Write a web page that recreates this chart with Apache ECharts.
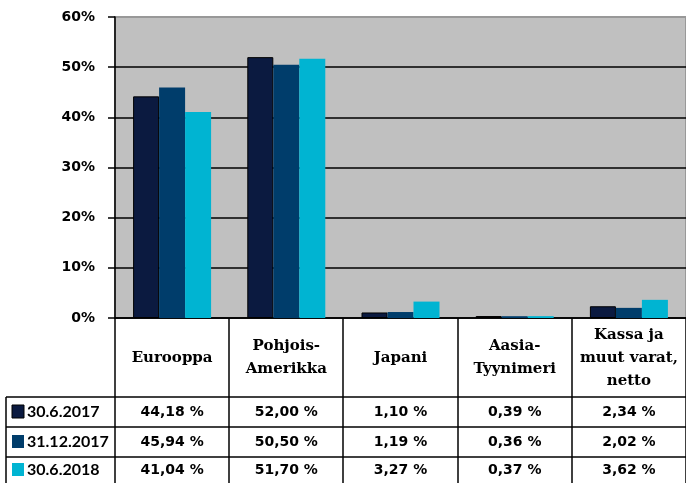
<!DOCTYPE html>
<html><head><meta charset="utf-8">
<script src="https://cdn.jsdelivr.net/npm/echarts@6/dist/echarts.min.js"></script>
<style>html,body{margin:0;padding:0;background:#fff}#c{width:686px;height:483px}</style>
</head><body><div id="c"></div>
<script>
var categories = ['Eurooppa', 'Pohjois-\nAmerikka', 'Japani', 'Aasia-\nTyynimeri', 'Kassa ja\nmuut varat,\nnetto'];
var seriesNames = ['30.6.2017', '31.12.2017', '30.6.2018'];
var s2017a = [44.18, 52.00, 1.10, 0.39, 2.34];
var s2017b = [45.94, 50.50, 1.19, 0.36, 2.02];
var s2018a = [41.04, 51.70, 3.27, 0.37, 3.62];
var colors = ['#0b1a40', '#003d6b', '#00b4d2'];
var yTicks = [0, 10, 20, 30, 40, 50, 60];

var data = [s2017a, s2017b, s2018a];
var L = 115, T = 17, W = 686 - L, B = 318;
var chart = echarts.init(document.getElementById('c'));
var fmt = function (v) { return v.toFixed(2).replace('.', ',') + ' %'; };

var series = data.map(function (d, i) {
  return {
    name: seriesNames[i], type: 'bar', data: d, barWidth: 26, barGap: '0%',
    itemStyle: { color: colors[i], borderColor: i === 0 ? '#000' : colors[i], borderWidth: i === 0 ? 1 : 0 },
    animation: false
  };
});

chart.setOption({
  animation: false,
  grid: { left: L, top: T, width: W + 4, height: B - T, show: true, backgroundColor: '#c0c0c0', borderColor: '#999', borderWidth: 2 },
  xAxis: { type: 'category', data: categories, axisLine: { lineStyle: { color: '#000', width: 1.5 } }, axisTick: { show: false }, axisLabel: { show: false } },
  yAxis: {
    type: 'value', min: yTicks[0], max: yTicks[yTicks.length - 1], interval: 10,
    axisLine: { show: true, lineStyle: { color: '#000', width: 1.5 } },
    axisTick: { show: true, length: 7, lineStyle: { color: '#000', width: 1.5 } },
    splitLine: { lineStyle: { color: ['#000', '#000', '#000', '#000', '#000', '#000', '#999'], width: 1.5 } },
    axisLabel: { formatter: '{value}%', fontFamily: 'DejaVu Sans', fontWeight: 'bold', fontSize: 14, color: '#000', margin: 20 }
  },
  series: series
});

var g = [];
var cw = W / 5;
var lineStyle = { stroke: '#000', lineWidth: 1.5 };
var rowY = [397, 427, 457, 483];
for (var i = 0; i <= 5; i++) {
  var x = Math.round(L + i * cw);
  g.push({ type: 'line', shape: { x1: x, y1: B, x2: x, y2: 483 }, style: lineStyle, silent: true });
}
g.push({ type: 'line', shape: { x1: 6, y1: 397, x2: 6, y2: 483 }, style: lineStyle });
for (var r = 0; r < 3; r++) {
  g.push({ type: 'line', shape: { x1: 6, y1: rowY[r], x2: 686, y2: rowY[r] }, style: lineStyle });
}
categories.forEach(function (c, i) {
  g.push({ type: 'text', x: L + (i + 0.5) * cw, y: 358,
    style: { text: c, fontFamily: 'DejaVu Serif', fontSize: 15, fontWeight: 'bold', fill: '#000', align: 'center', verticalAlign: 'middle', lineHeight: 23 } });
});
data.forEach(function (d, r) {
  var cy = (rowY[r] + rowY[r + 1]) / 2;
  g.push({ type: 'rect', shape: { x: 12, y: cy - 7, width: 12, height: 13 }, style: { fill: colors[r], stroke: r === 0 ? '#000' : null, lineWidth: 1 } });
  g.push({ type: 'text', x: 27, y: cy, style: { text: seriesNames[r], fontFamily: 'Lato', fontWeight: 'bold', fontSize: 16, fill: '#000', align: 'left', verticalAlign: 'middle' } });
  d.forEach(function (v, i) {
    g.push({ type: 'text', x: L + (i + 0.5) * cw, y: cy, style: { text: fmt(v), fontFamily: 'DejaVu Sans', fontWeight: 'bold', fontSize: 14, fill: '#000', align: 'center', verticalAlign: 'middle' } });
  });
});
chart.setOption({ graphic: g });
</script></body></html>
